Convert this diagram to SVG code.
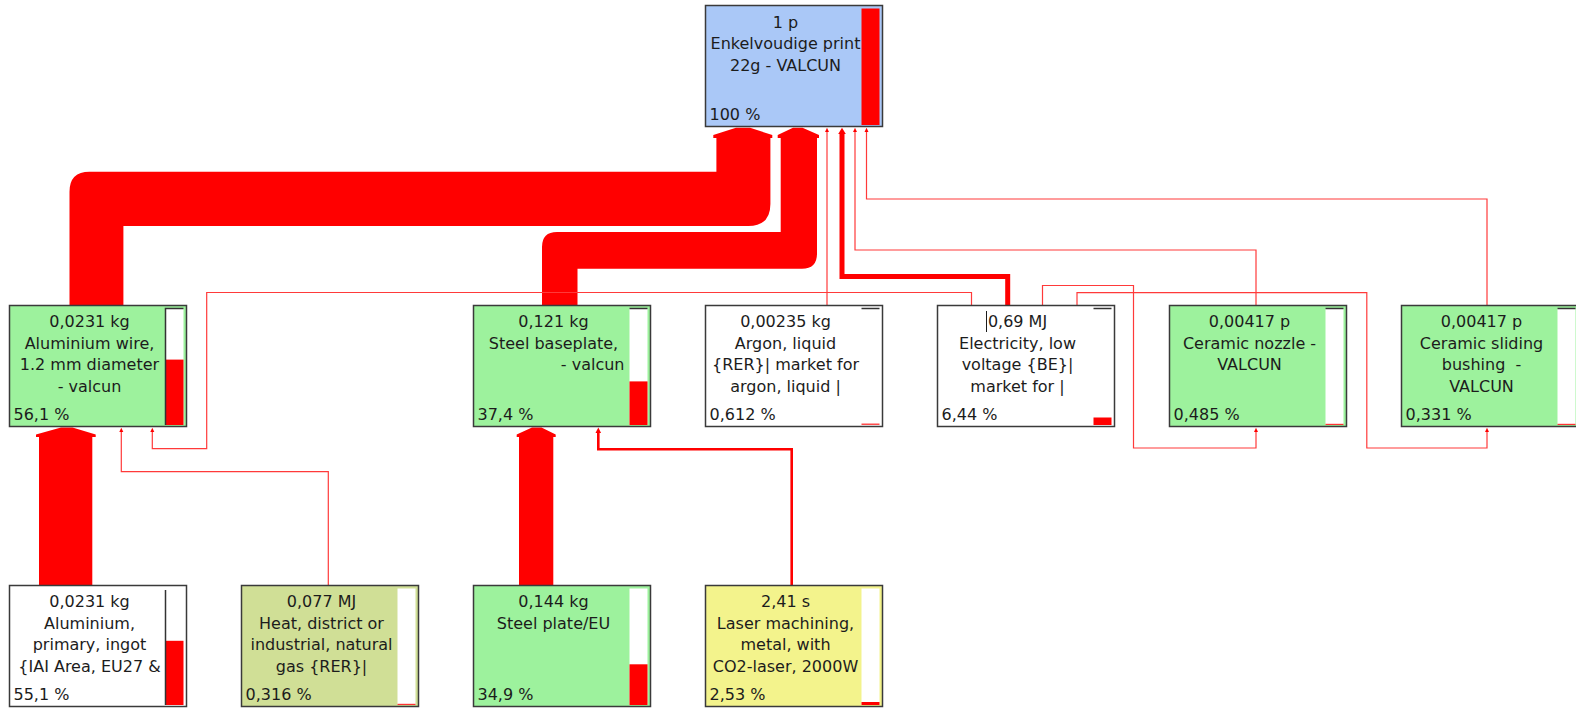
<svg xmlns="http://www.w3.org/2000/svg" width="1576" height="711" viewBox="0 0 1576 711">
<style>
.box{stroke:#3a3a3a;stroke-width:1.5}
.blue{fill:#aac8f7}.green{fill:#9df29d}.white{fill:#ffffff}.olive{fill:#d0df96}.yellow{fill:#f3f38c}
.t{font-family:"DejaVu Sans","Verdana",sans-serif;font-size:16px;fill:#1c1c1c;text-anchor:middle;white-space:pre}
.p{font-family:"DejaVu Sans","Verdana",sans-serif;font-size:16px;fill:#1c1c1c;text-anchor:start}
.r{text-anchor:end}
.barw{fill:#ffffff}
.bar{fill:#ff0000}
.edge{stroke:#333333;stroke-width:1.5;fill:none}
.thin{fill:none;stroke:#ff3a3a;stroke-width:1.2}
.red{fill:#ff0000}
</style>

<g id="connectors">
  <!-- Aluminium wire to top -->
  <path class="red" d="M69.5 306 L69.5 191.7 Q69.5 171.7 89.5 171.7 L716.4 171.7 L716.4 138 L713.3 138 L713.3 135 L736 127.8 L750 127.8 L772.3 135 L772.3 138 L770.4 138 L770.4 204 Q770.4 226 748.4 226 L123.4 226 L123.4 306 Z"/>
  <!-- Steel baseplate to top -->
  <path class="red" d="M542 306 L542 247 Q542 232 557 232 L780.7 232 L780.7 138 L777.7 138 L777.7 135 L793 127.8 L802.5 127.8 L819 135 L819 138 L817 138 L817 253.7 Q817 268.7 802 268.7 L577.5 268.7 L577.5 306 Z"/>
  <!-- Ingot to aluminium wire -->
  <path class="red" d="M39 586 L39 437 L36 437 L36 434.5 L61 427.5 L72.5 427.5 L95.7 434.5 L95.7 437 L92.3 437 L92.3 586 Z"/>
  <!-- Steel plate to steel baseplate -->
  <path class="red" d="M519 586 L519 437 L516.7 437 L516.7 434.5 L532 427.5 L541.5 427.5 L555.7 434.5 L555.7 437 L553.3 437 L553.3 586 Z"/>
  <!-- Electricity to top (thick) -->
  <path d="M1007.7 306 L1007.7 276.5 L842 276.5 L842 133" fill="none" stroke="#ff0000" stroke-width="5"/>
  <path class="red" d="M838.2 134 L842 127.8 L845.8 134 Z"/>
  <!-- Laser to steel baseplate -->
  <path d="M791.7 586 L791.7 449.3 L598.3 449.3 L598.3 432" fill="none" stroke="#ff0000" stroke-width="2.6"/>
  <path class="red" d="M595.5 433 L598.3 427.5 L601.1 433 Z"/>
  <!-- Argon to top -->
  <path class="thin" d="M827 306 L827 131"/>
  <path class="red" d="M825 132 L827 127.8 L829 132 Z"/>
  <!-- Ceramic nozzle to top -->
  <path class="thin" d="M1256 306 L1256 250 L855 250 L855 131"/>
  <path class="red" d="M853 132 L855 127.8 L857 132 Z"/>
  <!-- Ceramic bushing to top -->
  <path class="thin" d="M1487 306 L1487 199 L866.5 199 L866.5 131"/>
  <path class="red" d="M864.5 132 L866.5 127.8 L868.5 132 Z"/>
  <!-- Electricity to aluminium wire -->
  <path class="thin" d="M971.5 306 L971.5 292.5 L206.7 292.5 L206.7 448.7 L152.3 448.7 L152.3 431"/>
  <path class="red" d="M150.3 432 L152.3 427.8 L154.3 432 Z"/>
  <!-- Heat to aluminium wire -->
  <path class="thin" d="M328.3 586 L328.3 471.7 L121.3 471.7 L121.3 431"/>
  <path class="red" d="M119.3 432 L121.3 427.8 L123.3 432 Z"/>
  <!-- Electricity to ceramic nozzle -->
  <path class="thin" d="M1042.5 306 L1042.5 285.5 L1133.5 285.5 L1133.5 448 L1256 448 L1256 431"/>
  <path class="red" d="M1254 432 L1256 427.8 L1258 432 Z"/>
  <!-- Electricity to ceramic bushing -->
  <path class="thin" d="M1077 306 L1077 292.7 L1366.8 292.7 L1366.8 448 L1487 448 L1487 431"/>
  <path class="red" d="M1485 432 L1487 427.8 L1489 432 Z"/>
</g>

<g id="node-top">
  <rect class="box blue" x="705.5" y="5.5" width="177" height="121"/>
  <rect class="bar" x="861.5" y="8.5" width="18" height="116.5"/>
  <text class="t" x="785.5" y="27.5">1 p</text>
  <text class="t" x="785.5" y="49.2">Enkelvoudige print</text>
  <text class="t" x="785.5" y="70.9">22g - VALCUN</text>
  <text class="p" x="709.5" y="120">100 %</text>
</g>

<g id="node-aluminium-wire">
  <rect class="box green" x="9.5" y="305.5" width="177" height="121"/>
  <rect class="barw" x="165.5" y="308.5" width="18" height="116.5"/>
  <rect class="bar" x="165.5" y="359.6" width="18" height="65.4"/>
  <path class="edge" d="M165.5 425 L165.5 308.5 L183.5 308.5"/>
  <text class="t" x="89.5" y="327">0,0231 kg</text>
  <text class="t" x="89.5" y="348.7">Aluminium wire,</text>
  <text class="t" x="89.5" y="370.4">1.2 mm diameter</text>
  <text class="t" x="89.5" y="392.1">- valcun</text>
  <text class="p" x="13.5" y="419.5">56,1 %</text>
</g>

<g id="node-steel-baseplate">
  <rect class="box green" x="473.5" y="305.5" width="177" height="121"/>
  <rect class="barw" x="629.5" y="308.5" width="18" height="116.5"/>
  <rect class="bar" x="629.5" y="381.4" width="18" height="43.6"/>
  <path class="edge" d="M629.5 308.5 L647.5 308.5"/>
  <text class="t" x="553.5" y="327">0,121 kg</text>
  <text class="t" x="553.5" y="348.7">Steel baseplate,</text>
  <text class="t r" x="624.5" y="370.4">- valcun</text>
  <text class="p" x="477.5" y="419.5">37,4 %</text>
</g>

<g id="node-argon">
  <rect class="box white" x="705.5" y="305.5" width="177" height="121"/>
  <path class="edge" d="M861.5 308.5 L879.5 308.5"/>
  <rect class="bar" x="861.5" y="423.5" width="18" height="1.5" opacity="0.7"/>
  <text class="t" x="785.5" y="327">0,00235 kg</text>
  <text class="t" x="785.5" y="348.7">Argon, liquid</text>
  <text class="t" x="785.5" y="370.4">{RER}| market for</text>
  <text class="t" x="785.5" y="392.1">argon, liquid |</text>
  <text class="p" x="709.5" y="419.5">0,612 %</text>
</g>

<g id="node-electricity">
  <rect class="box white" x="937.5" y="305.5" width="177" height="121"/>
  <path class="edge" d="M1093.5 308.5 L1111.5 308.5"/>
  <rect class="bar" x="1093.5" y="417.5" width="18" height="7.5"/>
  <text class="t" x="1017.5" y="327">0,69 MJ</text>
  <path d="M986.5 311 L986.5 332" stroke="#1c1c1c" stroke-width="1"/>
  <text class="t" x="1017.5" y="348.7">Electricity, low</text>
  <text class="t" x="1017.5" y="370.4">voltage {BE}|</text>
  <text class="t" x="1017.5" y="392.1">market for |</text>
  <text class="p" x="941.5" y="419.5">6,44 %</text>
</g>

<g id="node-ceramic-nozzle">
  <rect class="box green" x="1169.5" y="305.5" width="177" height="121"/>
  <rect class="barw" x="1325.5" y="308.5" width="18" height="116.5"/>
  <path class="edge" d="M1325.5 308.5 L1343.5 308.5"/>
  <rect class="bar" x="1325.5" y="423.8" width="18" height="1.2" opacity="0.8"/>
  <text class="t" x="1249.5" y="327">0,00417 p</text>
  <text class="t" x="1249.5" y="348.7">Ceramic nozzle -</text>
  <text class="t" x="1249.5" y="370.4">VALCUN</text>
  <text class="p" x="1173.5" y="419.5">0,485 %</text>
</g>

<g id="node-ceramic-bushing">
  <rect class="box green" x="1401.5" y="305.5" width="177" height="121"/>
  <rect class="barw" x="1557.5" y="308.5" width="18" height="116.5"/>
  <path class="edge" d="M1557.5 308.5 L1575.5 308.5"/>
  <rect class="bar" x="1557.5" y="423.8" width="18" height="1.2" opacity="0.8"/>
  <text class="t" x="1481.5" y="327">0,00417 p</text>
  <text class="t" x="1481.5" y="348.7">Ceramic sliding</text>
  <text class="t" x="1481.5" y="370.4" xml:space="preserve">bushing  -</text>
  <text class="t" x="1481.5" y="392.1">VALCUN</text>
  <text class="p" x="1405.5" y="419.5">0,331 %</text>
</g>

<g id="node-aluminium-ingot">
  <rect class="box white" x="9.5" y="585.5" width="177" height="121"/>
  <rect class="bar" x="165.5" y="640.8" width="18" height="64.2"/>
  <path class="edge" d="M165.5 590 L165.5 705"/>
  <text class="t" x="89.5" y="607">0,0231 kg</text>
  <text class="t" x="89.5" y="628.7">Aluminium,</text>
  <text class="t" x="89.5" y="650.4">primary, ingot</text>
  <text class="t" x="89.5" y="672.1">{IAI Area, EU27 &amp;</text>
  <text class="p" x="13.5" y="699.5">55,1 %</text>
</g>

<g id="node-heat">
  <rect class="box olive" x="241.5" y="585.5" width="177" height="121"/>
  <rect class="barw" x="397.5" y="588.5" width="18" height="116.5"/>
  <rect class="bar" x="397.5" y="703.8" width="18" height="1.2" opacity="0.8"/>
  <text class="t" x="321.5" y="607">0,077 MJ</text>
  <text class="t" x="321.5" y="628.7">Heat, district or</text>
  <text class="t" x="321.5" y="650.4">industrial, natural</text>
  <text class="t" x="321.5" y="672.1">gas {RER}|</text>
  <text class="p" x="245.5" y="699.5">0,316 %</text>
</g>

<g id="node-steel-plate">
  <rect class="box green" x="473.5" y="585.5" width="177" height="121"/>
  <rect class="barw" x="629.5" y="588.5" width="18" height="116.5"/>
  <rect class="bar" x="629.5" y="664.3" width="18" height="40.7"/>
  <text class="t" x="553.5" y="607">0,144 kg</text>
  <text class="t" x="553.5" y="628.7">Steel plate/EU</text>
  <text class="p" x="477.5" y="699.5">34,9 %</text>
</g>

<g id="node-laser">
  <rect class="box yellow" x="705.5" y="585.5" width="177" height="121"/>
  <rect class="barw" x="861.5" y="588.5" width="18" height="116.5"/>
  <rect class="bar" x="861.5" y="702" width="18" height="3"/>
  <text class="t" x="785.5" y="607">2,41 s</text>
  <text class="t" x="785.5" y="628.7">Laser machining,</text>
  <text class="t" x="785.5" y="650.4">metal, with</text>
  <text class="t" x="785.5" y="672.1">CO2-laser, 2000W</text>
  <text class="p" x="709.5" y="699.5">2,53 %</text>
</g>
</svg>
